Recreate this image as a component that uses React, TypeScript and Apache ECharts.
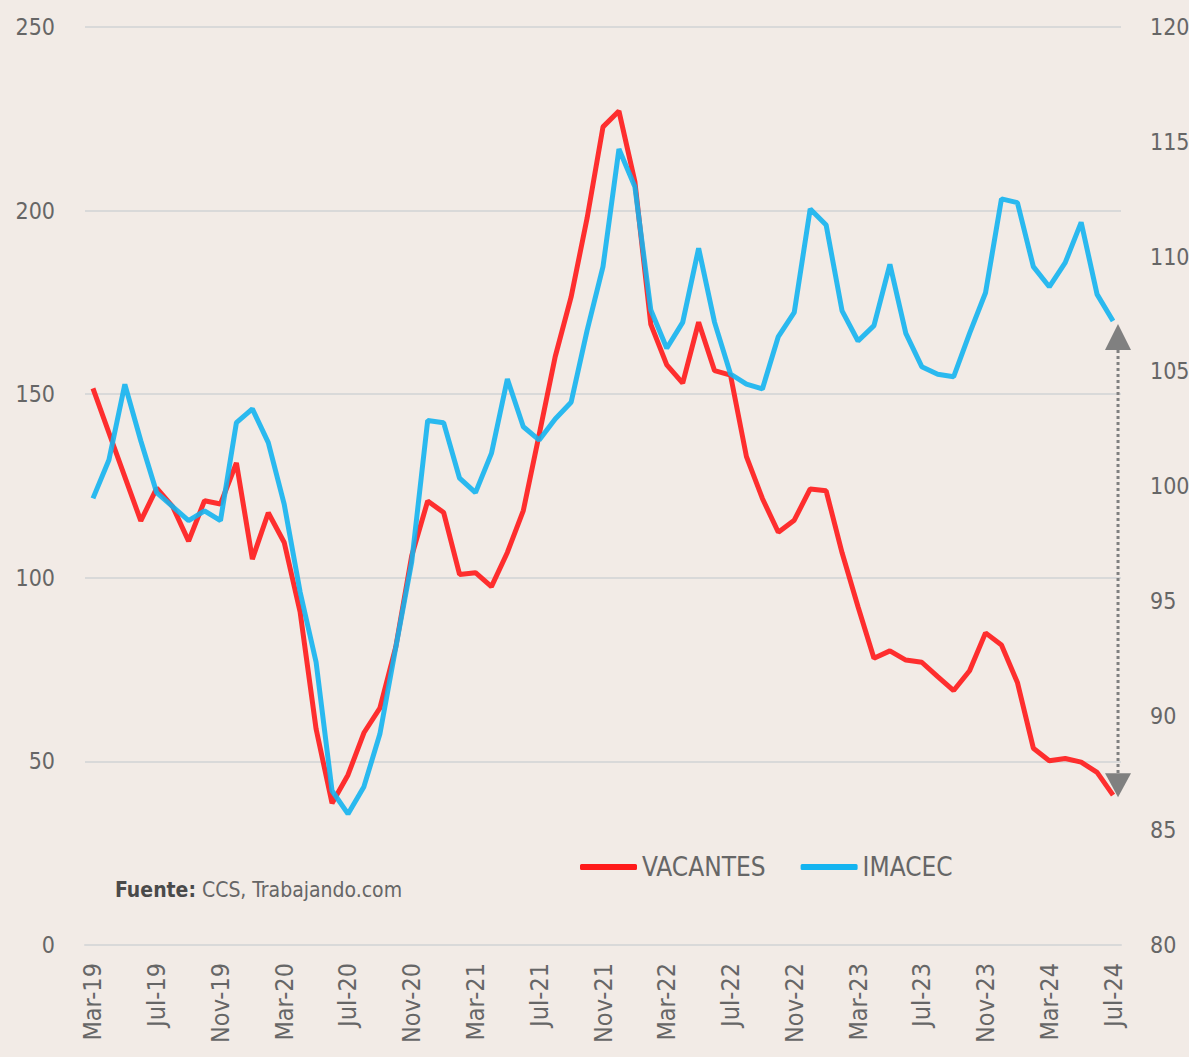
import React, { useEffect, useRef } from "react";
import * as echarts from "echarts";

const months = [
  "Mar-19","Abr-19","May-19","Jun-19","Jul-19","Ago-19","Sep-19","Oct-19","Nov-19","Dic-19",
  "Ene-20","Feb-20","Mar-20","Abr-20","May-20","Jun-20","Jul-20","Ago-20","Sep-20","Oct-20",
  "Nov-20","Dic-20","Ene-21","Feb-21","Mar-21","Abr-21","May-21","Jun-21","Jul-21","Ago-21",
  "Sep-21","Oct-21","Nov-21","Dic-21","Ene-22","Feb-22","Mar-22","Abr-22","May-22","Jun-22",
  "Jul-22","Ago-22","Sep-22","Oct-22","Nov-22","Dic-22","Ene-23","Feb-23","Mar-23","Abr-23",
  "May-23","Jun-23","Jul-23","Ago-23","Sep-23","Oct-23","Nov-23","Dic-23","Ene-24","Feb-24",
  "Mar-24","Abr-24","May-24","Jun-24","Jul-24",
];

const vacantes = [
  151.6, 139.5, 127.5, 115.5, 124.4, 119.4, 110.0, 121.0, 120.1, 131.3,
  105.1, 117.7, 109.6, 90.6, 58.8, 38.6, 46.3, 57.8, 64.5, 81.2,
  106.0, 120.9, 117.8, 100.9, 101.4, 97.6, 106.9, 118.3, 139.1, 160.2,
  176.5, 197.9, 222.8, 227.1, 207.9, 169.0, 158.0, 153.0, 169.6, 156.4,
  155.2, 133.0, 121.6, 112.4, 115.7, 124.2, 123.7, 106.8, 92.1, 78.1,
  80.1, 77.6, 77.0, 73.1, 69.3, 74.7, 85.0, 81.7, 71.5, 53.6,
  50.2, 50.8, 49.8, 47.0, 40.8,
];

const imacec = [
  99.46, 101.13, 104.43, 101.97, 99.71, 99.1, 98.49, 98.92, 98.49, 102.76,
  103.36, 101.89, 99.2, 95.37, 92.32, 86.72, 85.71, 86.9, 89.19, 92.97,
  96.7, 102.85, 102.76, 100.34, 99.71, 101.42, 104.66, 102.58, 102.0, 102.92,
  103.65, 106.77, 109.56, 114.68, 113.04, 107.67, 106.0, 107.13, 110.36, 107.13,
  104.88, 104.44, 104.23, 106.51, 107.57, 112.07, 111.37, 107.63, 106.32, 106.99,
  109.66, 106.65, 105.2, 104.87, 104.76, 106.65, 108.42, 112.51, 112.35, 109.56,
  108.68, 109.73, 111.49, 108.35, 107.19,
];

const leftTicks = { min: 0, max: 250, interval: 50 };
const rightTicks = { min: 80, max: 120, interval: 5 };

const FONT = "'Liberation Sans Narrow', 'DejaVu Sans Condensed', 'Roboto', sans-serif";
const TEXT = "#666666";
const GRID = "#d9d9d9";
const RED = "#ff1a1a";
const BLUE = "#14b4f0";

export default function App() {
  const ref = useRef<HTMLDivElement>(null);

  useEffect(() => {
    document.body.style.margin = "0";
    if (!ref.current) return;
    const chart = echarts.init(ref.current, undefined, { renderer: "svg" });
    chart.setOption({
      animation: false,
      backgroundColor: "#f2ebe6",
      grid: { left: 85, right: 68, top: 27, bottom: 112, containLabel: false, outerBoundsMode: "none" },
      xAxis: {
        type: "category",
        data: months,
        boundaryGap: true,
        axisLine: { lineStyle: { color: GRID, width: 2 } },
        axisTick: { interval: 3, length: 11, lineStyle: { color: GRID, width: 2 } },
        axisLabel: { interval: 3, rotate: 90, margin: 18, fontSize: 25, color: TEXT, fontFamily: FONT },
      },
      yAxis: [
        {
          type: "value",
          position: "left",
          ...leftTicks,
          axisLine: { show: false },
          axisTick: { show: false },
          splitLine: { lineStyle: { color: GRID, width: 2 } },
          axisLabel: { margin: 30, fontSize: 23, color: TEXT, fontFamily: FONT },
        },
        {
          type: "value",
          position: "right",
          ...rightTicks,
          axisLine: { show: false },
          axisTick: { show: false },
          splitLine: { show: false },
          axisLabel: { margin: 29, fontSize: 23, color: TEXT, fontFamily: FONT },
        },
      ],
      legend: {
        left: 580,
        top: 852,
        padding: 0,
        itemWidth: 57,
        itemHeight: 6,
        itemGap: 35,
        icon: "roundRect",
        textStyle: { fontSize: 26, color: TEXT, fontFamily: FONT, lineHeight: 30 },
        data: ["VACANTES", "IMACEC"],
      },
      series: [
        {
          name: "VACANTES",
          type: "line",
          yAxisIndex: 0,
          data: vacantes,
          showSymbol: false,
          lineStyle: { width: 5, color: RED, opacity: 0.9 },
          itemStyle: { color: RED },
          z: 2,
        },
        {
          name: "IMACEC",
          type: "line",
          yAxisIndex: 1,
          data: imacec,
          showSymbol: false,
          lineStyle: { width: 5, color: BLUE, opacity: 0.9 },
          itemStyle: { color: BLUE },
          z: 3,
        },
      ],
    });

    const last = months.length - 1;
    const top = chart.convertToPixel({ xAxisIndex: 0, yAxisIndex: 1 }, [last, imacec[last]]) as number[];
    const bot = chart.convertToPixel({ xAxisIndex: 0, yAxisIndex: 0 }, [last, vacantes[last]]) as number[];
    const ax = top[0] + 5;
    const topTip = top[1] + 3;
    const botTip = bot[1] + 2;
    const hw = 13;
    const ah = 26;
    chart.setOption({
      graphic: [
        {
          type: "line",
          shape: { x1: ax, y1: topTip + ah, x2: ax, y2: botTip - ah + 2 },
          style: { stroke: "#808080", lineWidth: 3, lineDash: [3, 3] },
          z: 10,
        },
        {
          type: "polygon",
          shape: { points: [[ax, topTip], [ax - hw, topTip + ah], [ax + hw, topTip + ah]] },
          style: { fill: "#808080" },
          z: 10,
        },
        {
          type: "polygon",
          shape: { points: [[ax, botTip], [ax - hw, botTip - ah + 2], [ax + hw, botTip - ah + 2]] },
          style: { fill: "#808080" },
          z: 10,
        },
        {
          type: "text",
          left: 115,
          top: 879,
          style: {
            text: "{b|Fuente:} CCS, Trabajando.com",
            fontSize: 21,
            fontFamily: FONT,
            fill: TEXT,
            rich: {
              b: { fontSize: 21, fontFamily: FONT, fontWeight: "bold", fill: "#4a4a4a", color: "#4a4a4a" },
            },
          },
          z: 10,
        },
      ],
    });

    return () => chart.dispose();
  }, []);

  return <div ref={ref} style={{ width: 1189, height: 1057 }} />;
}
